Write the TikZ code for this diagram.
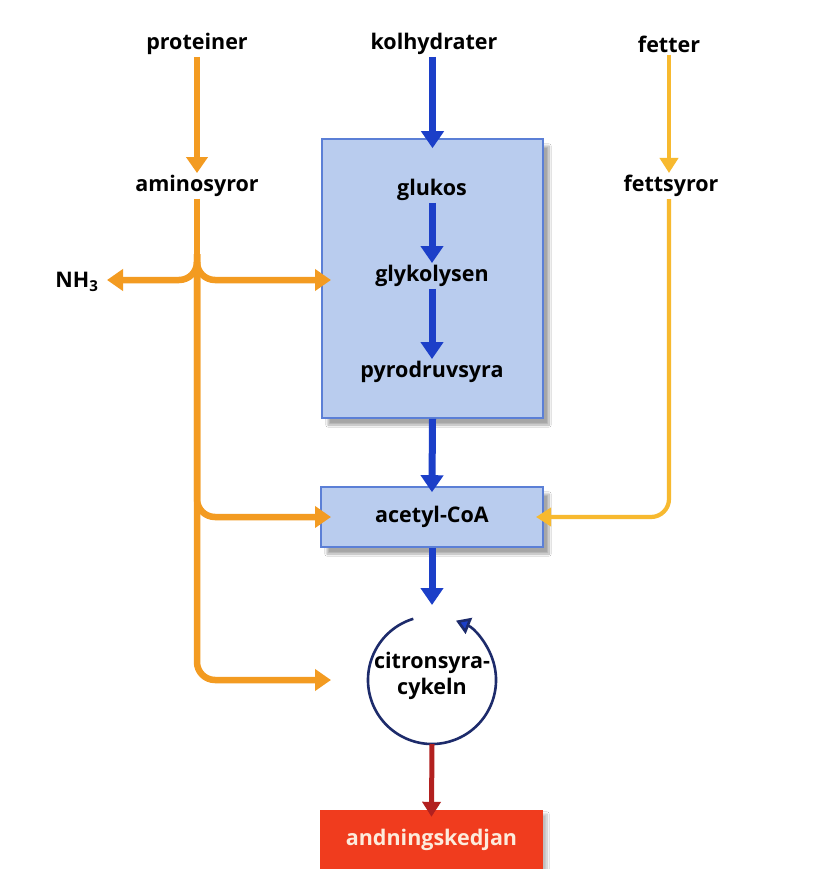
\documentclass[tikz,border=0pt]{standalone}
\usepackage{fontspec}
\setmainfont{Open Sans}
\usetikzlibrary{arrows.meta,shadows.blur}
\definecolor{org}{HTML}{F39B21}
\definecolor{yel}{HTML}{F7B92F}
\definecolor{blu}{HTML}{1C3FC8}
\definecolor{boxfill}{HTML}{B9CCEE}
\definecolor{boxline}{HTML}{5B7FD6}
\definecolor{navy}{HTML}{1D2B6B}
\definecolor{redbox}{HTML}{F03C1E}
\definecolor{darkred}{HTML}{B2201F}
\definecolor{cream}{HTML}{FCEBDC}
\tikzset{
  lbl/.style={font=\bfseries\fontsize{21.5}{24}\selectfont, text=black, inner sep=2pt},
  orarrow/.style={draw=org, line width=6.5pt, -{Triangle[width=21pt,length=16pt]}, rounded corners=18pt},
  orline/.style={draw=org, line width=6.5pt, rounded corners=18pt},
  yelarrow/.style={draw=yel, line width=4.2pt, -{Triangle[width=18pt,length=15pt]}, rounded corners=18pt},
  bluarrow/.style={draw=blu, line width=7pt, -{Triangle[width=22pt,length=17pt]}},
  bluebox/.style={draw=boxline, line width=1.6pt, fill=boxfill, inner sep=0pt,
    blur shadow={shadow xshift=6pt, shadow yshift=-7pt, shadow blur steps=14, shadow opacity=35}},
}
\begin{document}
\begin{tikzpicture}[x=1pt,y=-1pt]
\useasboundingbox[fill=white] (0,0) rectangle (827,869);
% boxes
\node[bluebox, minimum width=221pt, minimum height=279pt] (gbox) at (432.5,278.5) {};
\node[bluebox, minimum width=222pt, minimum height=60pt] (acoa) at (432,517) {};
\node[lbl] (acoat) at (432,517) {acetyl-CoA};
\node[fill=redbox, inner sep=0pt, minimum width=223pt, minimum height=70pt,
  blur shadow={shadow xshift=4pt, shadow yshift=-4pt, shadow blur steps=10, shadow opacity=25}] (resp) at (431.5,845) {};
\node[lbl, text=cream] (respt) at (431.5,840) {andningskedjan};
% labels
\node[lbl] (prot) at (197,44) {proteiner};
\node[lbl] (kolh) at (434,44) {kolhydrater};
\node[lbl] (fett) at (669,44) {fetter};
\node[lbl] (amin) at (197,186) {aminosyror};
\node[lbl] (fsyr) at (671,186) {fettsyror};
\node[lbl] (nh3) at (77,282) {NH$_{\mathbf 3}$};
\node[lbl] (gluk) at (432,190) {glukos};
\node[lbl] (glyk) at (432,276) {glykolysen};
\node[lbl] (pyro) at (432,372) {pyrodruvsyra};
\node[lbl, align=center, font=\bfseries\fontsize{21.5}{26}\selectfont] (cyc) at (432,676) {citronsyra-\\cykeln};
\coordinate (cc) at (432,680);
\coordinate (gin) at (331,280);
\coordinate (ain) at (331,517);
\coordinate (cin) at (331,680);
\coordinate (fin) at (536,517);
\coordinate (nhe) at (107,280);
\coordinate (ctop) at (432,605);
% citric acid cycle circle
\draw[navy, line width=2.6pt, -{Triangle[width=17pt,length=14pt,fill=blu]}]
  (cc) ++(253:64) arc[start angle=253, end angle=-68, radius=64];
% orange arrows
\draw[orarrow] (prot.south) -- (prot.south |- amin.north);
\draw[orline] (amin.south) -- (197,262);
\draw[orarrow] (197,254) |- (nhe);
\draw[orarrow] (197,254) |- (gin);
\draw[orarrow] (197,262) |- (ain);
\draw[orarrow] (197,262) |- (cin);
% yellow
\draw[yelarrow] (fett.south) -- (fett.south |- fsyr.north);
\draw[yelarrow] (fett.south |- fsyr.south) |- (fin);
% blue
\draw[bluarrow, shorten >=-10pt] (kolh.south -| gbox.north) -- (gbox.north);
\draw[bluarrow] (gluk) -- (glyk);
\draw[bluarrow] (glyk) -- (pyro);
\draw[bluarrow, shorten >=-6pt] (gbox.south) -- (acoa.north);
\draw[bluarrow] (acoa.south) -- (ctop);
% red
\draw[darkred, line width=5pt, -{Triangle[width=18pt,length=15pt]}, shorten >=-7pt] (cc) ++(0,64) coordinate (cbot) -- (resp.north);
\end{tikzpicture}
\end{document}
